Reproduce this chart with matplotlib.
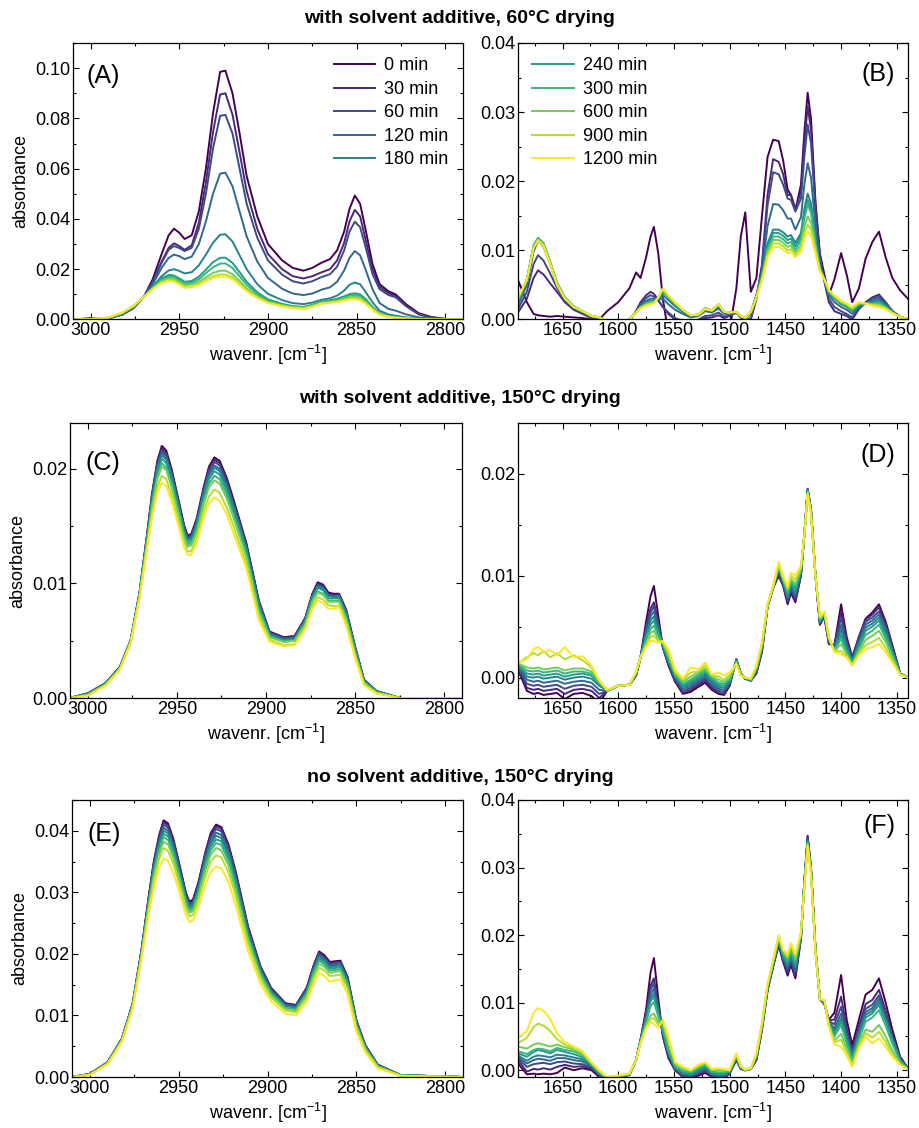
import numpy as np
import matplotlib.pyplot as plt
from matplotlib.ticker import MultipleLocator, FormatStrFormatter

plt.rcParams['font.family'] = ['Liberation Sans', 'DejaVu Sans']
plt.rcParams['mathtext.fontset'] = 'custom'
plt.rcParams['mathtext.rm'] = 'Liberation Sans'

times = [0, 30, 60, 120, 180, 240, 300, 600, 900, 1200]

# ---- C-H stretch region, 60 C drying (A)
wn_a = [3010, 3000, 2990, 2982, 2976, 2970, 2965, 2960, 2956, 2953, 2950, 2947, 2943, 2939, 2935,
        2931, 2927, 2924, 2920, 2916, 2912, 2906, 2900, 2892, 2886, 2880, 2875, 2870, 2865, 2861,
        2857, 2854, 2851, 2848, 2845, 2841, 2837, 2832, 2828, 2822, 2815, 2808, 2800, 2790]
abs_a = [
    [0, .0005, .0005, .0020, .0045, .0090, .0160, .0260, .0335, .0361, .0345, .0320, .0335, .0430, .0600,
     .0820, .0985, .0990, .0900, .0740, .0570, .0410, .0300, .0235, .0205, .0194, .0205, .0225, .0240, .0275,
     .0350, .0440, .0493, .0460, .0360, .0220, .0140, .0112, .0100, .0060, .0025, .0010, .0002, 0],
    [0, .0003, .0004, .0020, .0045, .0090, .0150, .0230, .0285, .0303, .0292, .0277, .0295, .0385, .0545,
     .0745, .0895, .0900, .0815, .0665, .0510, .0360, .0260, .0200, .0172, .0163, .0172, .0187, .0200, .0235,
     .0305, .0390, .0436, .0410, .0320, .0200, .0130, .0104, .0094, .0055, .0022, .0008, .0002, 0],
    [0, .0002, .0004, .0020, .0045, .0090, .0148, .0225, .0277, .0292, .0284, .0272, .0285, .0360, .0500,
     .0680, .0810, .0814, .0740, .0600, .0460, .0325, .0235, .0178, .0152, .0143, .0152, .0168, .0180, .0210,
     .0275, .0350, .0389, .0367, .0290, .0180, .0120, .0097, .0088, .0052, .0020, .0007, .0002, 0],
    [0, .0002, .0004, .0021, .0047, .0090, .0140, .0205, .0245, .0258, .0252, .0240, .0250, .0300, .0390,
     .0500, .0580, .0584, .0530, .0430, .0330, .0230, .0165, .0122, .0103, .0097, .0103, .0118, .0128, .0150,
     .0195, .0245, .0272, .0255, .0200, .0120, .0065, .0042, .0035, .0020, .0008, .0003, .0001, 0],
    [0, .0002, .0005, .0022, .0048, .0090, .0130, .0172, .0195, .0200, .0193, .0183, .0188, .0215, .0258,
     .0305, .0337, .0339, .0310, .0255, .0200, .0140, .0102, .0077, .0065, .0061, .0067, .0078, .0084, .0095,
     .0115, .0138, .0147, .0140, .0110, .0068, .0035, .0020, .0015, .0008, .0003, .0001, 0, 0],
    [0, .0002, .0006, .0024, .0050, .0090, .0128, .0163, .0177, .0175, .0163, .0150, .0153, .0170, .0198,
     .0228, .0245, .0246, .0225, .0188, .0150, .0108, .0080, .0062, .0053, .0050, .0058, .0070, .0076, .0082,
     .0092, .0101, .0104, .0100, .0082, .0050, .0025, .0014, .0010, .0005, .0002, .0001, 0, 0],
    [0, .0002, .0006, .0025, .0051, .0090, .0126, .0158, .0170, .0168, .0156, .0143, .0146, .0160, .0184,
     .0208, .0222, .0223, .0205, .0172, .0138, .0100, .0075, .0059, .0051, .0048, .0056, .0068, .0073, .0078,
     .0087, .0095, .0097, .0093, .0076, .0046, .0023, .0013, .0009, .0005, .0002, .0001, 0, 0],
    [0, .0002, .0007, .0026, .0052, .0090, .0124, .0153, .0163, .0161, .0149, .0137, .0139, .0150, .0168,
     .0185, .0194, .0194, .0180, .0153, .0124, .0092, .0070, .0056, .0049, .0046, .0054, .0066, .0070, .0074,
     .0082, .0088, .0090, .0087, .0071, .0043, .0021, .0012, .0008, .0004, .0002, .0001, 0, 0],
    [0, .0002, .0007, .0027, .0053, .0090, .0122, .0148, .0157, .0155, .0143, .0130, .0132, .0142, .0158,
     .0172, .0179, .0179, .0168, .0143, .0117, .0088, .0067, .0054, .0047, .0044, .0052, .0064, .0068, .0071,
     .0078, .0083, .0084, .0081, .0066, .0040, .0020, .0011, .0007, .0004, .0002, .0001, 0, 0],
    [0, .0002, .0008, .0028, .0054, .0090, .0121, .0145, .0153, .0151, .0139, .0126, .0128, .0137, .0152,
     .0165, .0170, .0170, .0160, .0137, .0112, .0085, .0065, .0052, .0045, .0042, .0050, .0062, .0066, .0069,
     .0075, .0079, .0080, .0077, .0063, .0038, .0019, .0010, .0007, .0003, .0001, .0001, 0, 0],
]

# ---- C-H stretch region, 150 C drying (C: with additive, E: without)
wn_ce = [3010, 3000, 2990, 2982, 2976, 2971, 2967, 2964, 2961, 2958.5, 2956, 2953, 2949, 2946, 2944,
         2942, 2939, 2935, 2932, 2929, 2926, 2922, 2918, 2911, 2904, 2898, 2890, 2884, 2878, 2874,
         2871, 2868, 2865, 2862, 2859, 2855, 2850, 2845, 2838, 2825, 2790]
abs_c = [
    [0, .0004, .0013, .0027, .0050, .0092, .0140, .0178, .0207, .0220, .0216, .0200, .0172, .0151, .0142,
     .0143, .0156, .0184, .0202, .0210, .0207, .0192, .0172, .0135, .0085, .0058, .0053, .0054, .0070, .0091,
     .0101, .0099, .0092, .0091, .0091, .0077, .0045, .0016, .0006, 0, 0],
    [0, .0004, .0013, .0027, .0050, .0092, .0139, .0177, .0205, .0218, .0214, .0198, .0171, .0150, .0141,
     .0142, .0155, .0182, .0200, .0208, .0205, .0190, .0170, .0134, .0084, .0057, .0053, .0054, .0069, .0090,
     .0100, .0098, .0091, .0090, .0090, .0076, .0044, .0016, .0006, 0, 0],
    [0, .0004, .0013, .0027, .0050, .0091, .0139, .0175, .0204, .0216, .0212, .0197, .0169, .0149, .0140,
     .0141, .0153, .0181, .0198, .0206, .0203, .0188, .0169, .0132, .0083, .0057, .0052, .0053, .0069, .0089,
     .0099, .0097, .0090, .0089, .0090, .0075, .0044, .0015, .0006, 0, 0],
    [0, .0004, .0013, .0027, .0050, .0091, .0138, .0174, .0202, .0214, .0210, .0195, .0168, .0147, .0139,
     .0140, .0152, .0179, .0196, .0203, .0200, .0186, .0166, .0131, .0082, .0056, .0051, .0052, .0068, .0089,
     .0098, .0096, .0089, .0089, .0089, .0074, .0043, .0015, .0006, 0, 0],
    [0, .0004, .0012, .0026, .0050, .0091, .0137, .0173, .0200, .0212, .0208, .0193, .0167, .0146, .0138,
     .0139, .0151, .0178, .0194, .0201, .0198, .0184, .0165, .0130, .0081, .0056, .0051, .0052, .0068, .0088,
     .0097, .0095, .0089, .0088, .0088, .0074, .0043, .0015, .0006, 0, 0],
    [0, .0003, .0012, .0026, .0049, .0090, .0136, .0171, .0197, .0209, .0205, .0190, .0165, .0145, .0136,
     .0137, .0149, .0175, .0191, .0198, .0195, .0181, .0162, .0128, .0079, .0055, .0050, .0051, .0067, .0087,
     .0096, .0094, .0087, .0087, .0087, .0072, .0042, .0014, .0005, 0, 0],
    [0, .0003, .0012, .0026, .0049, .0090, .0134, .0168, .0194, .0205, .0201, .0187, .0162, .0142, .0134,
     .0135, .0146, .0172, .0187, .0194, .0191, .0177, .0158, .0125, .0077, .0054, .0049, .0050, .0065, .0085,
     .0093, .0091, .0085, .0085, .0085, .0070, .0040, .0014, .0005, 0, 0],
    [0, .0003, .0012, .0026, .0049, .0089, .0133, .0166, .0191, .0202, .0199, .0184, .0160, .0140, .0132,
     .0133, .0144, .0169, .0184, .0190, .0187, .0174, .0156, .0123, .0075, .0053, .0049, .0050, .0064, .0084,
     .0092, .0090, .0084, .0084, .0084, .0069, .0039, .0013, .0005, 0, 0],
    [0, .0002, .0011, .0025, .0048, .0088, .0130, .0161, .0184, .0194, .0191, .0177, .0154, .0136, .0128,
     .0128, .0139, .0163, .0176, .0182, .0179, .0166, .0149, .0117, .0071, .0051, .0046, .0047, .0062, .0080,
     .0088, .0086, .0081, .0080, .0081, .0066, .0037, .0012, .0004, 0, 0],
    [0, .0002, .0011, .0025, .0048, .0087, .0128, .0157, .0179, .0188, .0185, .0172, .0150, .0132, .0125,
     .0125, .0135, .0158, .0170, .0175, .0172, .0160, .0143, .0113, .0068, .0049, .0045, .0046, .0060, .0078,
     .0085, .0083, .0078, .0078, .0079, .0063, .0035, .0011, .0004, 0, 0],
]
abs_e = [
    [0, .0005, .0024, .0062, .0118, .0205, .0290, .0350, .0393, .0417, .0412, .0387, .0338, .0300, .0285,
     .0288, .0315, .0365, .0396, .0410, .0406, .0378, .0335, .0245, .0180, .0145, .0120, .0117, .0145, .0182,
     .0204, .0198, .0187, .0188, .0189, .0163, .0092, .0052, .0020, .0003, 0],
    [0, .0005, .0024, .0062, .0118, .0204, .0289, .0348, .0390, .0414, .0409, .0384, .0336, .0298, .0283,
     .0286, .0313, .0362, .0393, .0407, .0403, .0375, .0332, .0243, .0179, .0144, .0119, .0116, .0144, .0180,
     .0202, .0196, .0185, .0186, .0187, .0162, .0091, .0051, .0020, .0003, 0],
    [0, .0005, .0024, .0061, .0117, .0203, .0287, .0345, .0387, .0410, .0405, .0381, .0333, .0296, .0281,
     .0284, .0311, .0359, .0389, .0403, .0399, .0371, .0329, .0241, .0177, .0143, .0118, .0115, .0142, .0179,
     .0200, .0194, .0183, .0185, .0186, .0160, .0090, .0051, .0019, .0003, 0],
    [0, .0005, .0023, .0061, .0116, .0202, .0285, .0342, .0383, .0405, .0400, .0377, .0330, .0293, .0279,
     .0282, .0307, .0355, .0384, .0397, .0393, .0366, .0325, .0237, .0175, .0141, .0117, .0114, .0141, .0176,
     .0197, .0192, .0181, .0182, .0183, .0158, .0089, .0050, .0019, .0003, 0],
    [0, .0004, .0023, .0061, .0116, .0201, .0282, .0338, .0379, .0400, .0396, .0372, .0326, .0290, .0276,
     .0279, .0304, .0351, .0379, .0392, .0388, .0362, .0320, .0234, .0172, .0139, .0115, .0112, .0139, .0174,
     .0195, .0189, .0178, .0180, .0181, .0155, .0087, .0049, .0018, .0003, 0],
    [0, .0004, .0023, .0060, .0115, .0200, .0280, .0335, .0374, .0395, .0391, .0368, .0323, .0287, .0273,
     .0276, .0301, .0346, .0374, .0386, .0383, .0357, .0316, .0231, .0170, .0137, .0114, .0111, .0137, .0172,
     .0192, .0186, .0176, .0177, .0178, .0153, .0086, .0048, .0018, .0003, 0],
    [0, .0004, .0023, .0060, .0114, .0198, .0278, .0331, .0370, .0390, .0385, .0363, .0319, .0284, .0270,
     .0273, .0297, .0342, .0368, .0380, .0377, .0351, .0311, .0227, .0168, .0135, .0113, .0110, .0135, .0169,
     .0189, .0183, .0173, .0174, .0175, .0151, .0084, .0047, .0017, .0003, 0],
    [0, .0004, .0022, .0059, .0114, .0197, .0274, .0326, .0363, .0382, .0378, .0356, .0314, .0280, .0267,
     .0269, .0293, .0335, .0361, .0372, .0368, .0344, .0304, .0223, .0164, .0133, .0110, .0107, .0132, .0165,
     .0184, .0179, .0169, .0171, .0172, .0147, .0082, .0045, .0017, .0002, 0],
    [0, .0004, .0022, .0058, .0112, .0194, .0270, .0319, .0354, .0372, .0367, .0347, .0307, .0274, .0261,
     .0263, .0286, .0326, .0350, .0360, .0357, .0333, .0295, .0216, .0160, .0129, .0108, .0105, .0128, .0160,
     .0178, .0173, .0164, .0165, .0166, .0143, .0079, .0043, .0016, .0002, 0],
    [0, .0003, .0021, .0057, .0110, .0190, .0262, .0307, .0340, .0355, .0351, .0332, .0295, .0264, .0252,
     .0254, .0275, .0312, .0333, .0342, .0339, .0317, .0280, .0205, .0152, .0123, .0103, .0100, .0122, .0152,
     .0169, .0164, .0155, .0157, .0158, .0135, .0074, .0040, .0014, .0002, 0],
]

# ---- fingerprint region (B, D, F)
wn_r = [1690, 1682, 1676, 1672, 1667, 1661, 1655, 1648, 1640, 1632, 1624, 1617, 1610, 1600, 1590,
        1584, 1580, 1575, 1571, 1568, 1564, 1560, 1555, 1549, 1542, 1535, 1528, 1522, 1516, 1510,
        1505, 1500, 1494, 1490, 1486, 1481, 1476, 1471, 1466, 1461, 1456, 1452, 1448, 1445, 1441,
        1436, 1433, 1430, 1427, 1423, 1419, 1415, 1411, 1406, 1400, 1395, 1390, 1384, 1378, 1372,
        1366, 1360, 1354, 1347, 1340]
abs_b = [
    [.0057, .0025, .0008, .0006, .0005, .0004, .0005, .0004, .0003, .0002, 0, 0, .0012, .0025, .0045,
     .0068, .0060, .0090, .0120, .0134, .0095, .0030, -.0020, -.0040, -.0050, -.0050, -.0050, -.0050, -.0050, -.0050,
     -.0040, -.0015, .0045, .0120, .0155, .0040, .0060, .0150, .0235, .0260, .0258, .0230, .0188, .0180, .0158,
     .0195, .0270, .0328, .0290, .0170, .0095, .0065, .0035, .0058, .0096, .0065, .0025, .0045, .0088, .0112,
     .0127, .0090, .0060, .0042, .0030],
    [.0010, .0030, .0060, .0071, .0065, .0052, .0040, .0025, .0014, .0008, .0002, .0001, -.0005, -.0010, -.0003,
     .0012, .0025, .0035, .0040, .0037, .0028, .0018, .0008, 0, -.0003, -.0005, -.0002, .0002, .0003, .0006,
     .0002, .0005, .0010, .0003, -.0002, 0, .0030, .0080, .0180, .0232, .0228, .0210, .0180, .0180, .0160,
     .0185, .0255, .0308, .0275, .0165, .0090, .0055, .0025, .0012, .0008, .0005, 0, .0015, .0025, .0032,
     .0036, .0025, .0012, .0004, 0],
    [.0015, .0040, .0080, .0093, .0085, .0066, .0046, .0027, .0015, .0009, .0003, .0001, -.0005, -.0010, -.0002,
     .0012, .0023, .0031, .0035, .0033, .0027, .0018, .0010, .0002, -.0002, -.0003, 0, .0005, .0006, .0010,
     .0004, .0006, .0010, .0003, -.0001, .0002, .0030, .0075, .0165, .0213, .0210, .0195, .0175, .0173, .0156,
     .0175, .0235, .0282, .0255, .0158, .0088, .0057, .0030, .0018, .0012, .0008, .0003, .0016, .0024, .0030,
     .0033, .0024, .0012, .0004, 0],
    [.0020, .0050, .0098, .0114, .0105, .0080, .0050, .0030, .0017, .0010, .0004, .0002, -.0004, -.0008, -.0001,
     .0011, .0020, .0027, .0030, .0030, .0029, .0030, .0022, .0014, .0008, .0003, .0005, .0012, .0010, .0016,
     .0008, .0008, .0010, .0004, .0001, .0008, .0035, .0070, .0135, .0167, .0166, .0158, .0146, .0146, .0130,
     .0148, .0195, .0226, .0205, .0135, .0080, .0058, .0035, .0025, .0018, .0014, .0008, .0018, .0023, .0027,
     .0030, .0022, .0012, .0004, 0],
    [.0025, .0055, .0105, .0117, .0108, .0082, .0052, .0031, .0018, .0011, .0005, .0002, -.0004, -.0008, 0,
     .0010, .0019, .0025, .0027, .0028, .0030, .0035, .0028, .0019, .0011, .0005, .0006, .0014, .0012, .0019,
     .0010, .0009, .0010, .0004, .0002, .0010, .0035, .0065, .0110, .0130, .0130, .0126, .0120, .0122, .0111,
     .0125, .0160, .0182, .0168, .0118, .0075, .0058, .0038, .0030, .0022, .0018, .0012, .0020, .0023, .0025,
     .0027, .0020, .0011, .0004, 0],
    [.0027, .0058, .0107, .0118, .0110, .0083, .0053, .0032, .0019, .0012, .0005, .0003, -.0003, -.0007, 0,
     .0010, .0018, .0024, .0026, .0027, .0031, .0040, .0031, .0022, .0013, .0006, .0007, .0016, .0013, .0021,
     .0011, .0010, .0011, .0005, .0002, .0011, .0035, .0064, .0106, .0125, .0125, .0121, .0115, .0117, .0106,
     .0120, .0153, .0173, .0160, .0115, .0074, .0058, .0039, .0031, .0023, .0019, .0013, .0021, .0023, .0024,
     .0026, .0019, .0011, .0004, 0],
    [.0028, .0058, .0106, .0117, .0109, .0083, .0053, .0032, .0019, .0012, .0005, .0003, -.0003, -.0007, 0,
     .0010, .0018, .0023, .0025, .0026, .0031, .0042, .0032, .0023, .0013, .0006, .0007, .0016, .0013, .0022,
     .0011, .0010, .0011, .0005, .0002, .0011, .0034, .0062, .0102, .0120, .0120, .0116, .0110, .0112, .0101,
     .0115, .0146, .0166, .0154, .0112, .0073, .0058, .0040, .0032, .0024, .0020, .0014, .0022, .0023, .0023,
     .0024, .0018, .0010, .0004, 0],
    [.0029, .0058, .0105, .0116, .0108, .0082, .0052, .0031, .0018, .0012, .0005, .0003, -.0003, -.0007, 0,
     .0010, .0017, .0022, .0024, .0025, .0032, .0043, .0033, .0024, .0014, .0006, .0007, .0016, .0013, .0022,
     .0011, .0010, .0011, .0005, .0002, .0011, .0033, .0060, .0098, .0115, .0115, .0111, .0105, .0107, .0097,
     .0108, .0134, .0149, .0140, .0105, .0072, .0058, .0041, .0033, .0025, .0021, .0015, .0023, .0023, .0022,
     .0022, .0017, .0010, .0004, 0],
    [.0030, .0057, .0104, .0115, .0107, .0081, .0051, .0031, .0018, .0012, .0005, .0003, -.0003, -.0007, 0,
     .0010, .0017, .0021, .0023, .0024, .0032, .0044, .0034, .0024, .0014, .0006, .0007, .0015, .0013, .0022,
     .0011, .0010, .0011, .0005, .0002, .0011, .0032, .0058, .0094, .0110, .0110, .0106, .0100, .0102, .0093,
     .0103, .0125, .0137, .0130, .0100, .0071, .0058, .0042, .0034, .0026, .0022, .0017, .0024, .0023, .0021,
     .0020, .0016, .0009, .0004, 0],
    [.0032, .0057, .0103, .0114, .0106, .0080, .0050, .0030, .0018, .0012, .0005, .0003, -.0003, -.0007, 0,
     .0010, .0016, .0020, .0022, .0023, .0032, .0045, .0035, .0025, .0014, .0006, .0007, .0015, .0013, .0022,
     .0011, .0010, .0011, .0005, .0002, .0011, .0031, .0056, .0090, .0105, .0105, .0101, .0096, .0098, .0090,
     .0098, .0117, .0127, .0121, .0096, .0070, .0058, .0043, .0035, .0027, .0023, .0018, .0025, .0023, .0020,
     .0018, .0015, .0009, .0004, 0],
]
abs_d = [
    [.0008, -.0013, -.0016, -.0015, -.0017, -.0016, -.0015, -.0021, -.0016, -.0015, -.0018, -.0025, -.0013, -.0008, -.0007,
     .0002, .0020, .0055, .0080, .0090, .0060, .0030, .0012, -.0004, -.0016, -.0014, -.0009, -.0005, -.0012, -.0016,
     -.0017, -.0008, .0018, .0004, -.0001, -.0003, .0004, .0025, .0070, .0088, .0100, .0090, .0072, .0083, .0074,
     .0100, .0140, .0185, .0165, .0100, .0052, .0060, .0033, .0032, .0072, .0040, .0020, .0040, .0058, .0064,
     .0072, .0055, .0032, .0004, 0],
    [.0009, -.0010, -.0012, -.0011, -.0013, -.0012, -.0011, -.0016, -.0012, -.0011, -.0013, -.0020, -.0013, -.0008, -.0007,
     .0002, .0020, .0050, .0068, .0074, .0054, .0030, .0013, -.0003, -.0015, -.0012, -.0007, -.0003, -.0010, -.0015,
     -.0016, -.0007, .0018, .0004, -.0001, -.0003, .0005, .0026, .0070, .0088, .0102, .0091, .0074, .0085, .0076,
     .0101, .0140, .0185, .0165, .0100, .0052, .0060, .0034, .0031, .0064, .0037, .0019, .0040, .0057, .0062,
     .0069, .0053, .0031, .0004, 0],
    [.0010, -.0006, -.0008, -.0007, -.0009, -.0008, -.0007, -.0011, -.0008, -.0007, -.0009, -.0016, -.0013, -.0008, -.0007,
     .0002, .0020, .0048, .0064, .0070, .0052, .0030, .0014, -.0002, -.0013, -.0010, -.0005, -.0001, -.0008, -.0013,
     -.0014, -.0006, .0018, .0004, -.0001, -.0003, .0006, .0027, .0070, .0088, .0104, .0092, .0076, .0087, .0078,
     .0102, .0140, .0185, .0165, .0100, .0053, .0061, .0035, .0030, .0059, .0035, .0018, .0038, .0055, .0059,
     .0065, .0050, .0029, .0004, 0],
    [.0011, -.0002, -.0004, -.0003, -.0005, -.0004, -.0003, -.0006, -.0004, -.0003, -.0005, -.0012, -.0013, -.0008, -.0007,
     .0003, .0020, .0045, .0060, .0065, .0049, .0031, .0015, 0, -.0011, -.0008, -.0003, .0001, -.0006, -.0011,
     -.0012, -.0005, .0017, .0004, -.0001, -.0003, .0006, .0028, .0070, .0088, .0106, .0093, .0078, .0089, .0080,
     .0103, .0140, .0184, .0164, .0100, .0054, .0062, .0036, .0029, .0052, .0032, .0017, .0036, .0052, .0056,
     .0062, .0048, .0027, .0004, 0],
    [.0012, .0001, 0, .0001, -.0001, 0, .0001, -.0002, 0, .0001, -.0001, -.0008, -.0013, -.0008, -.0007,
     .0003, .0020, .0042, .0056, .0060, .0046, .0032, .0017, .0001, -.0009, -.0006, -.0001, .0003, -.0004, -.0009,
     -.0010, -.0004, .0017, .0004, -.0001, -.0003, .0007, .0029, .0070, .0088, .0107, .0094, .0080, .0091, .0083,
     .0104, .0140, .0184, .0164, .0100, .0055, .0062, .0037, .0028, .0047, .0030, .0016, .0034, .0049, .0053,
     .0059, .0045, .0026, .0004, 0],
    [.0012, .0004, .0003, .0004, .0002, .0003, .0004, .0001, .0003, .0004, .0002, -.0006, -.0013, -.0008, -.0007,
     .0004, .0020, .0040, .0052, .0056, .0044, .0032, .0018, .0002, -.0008, -.0004, .0001, .0005, -.0002, -.0007,
     -.0008, -.0003, .0016, .0003, 0, -.0002, .0008, .0030, .0071, .0089, .0108, .0095, .0082, .0093, .0086,
     .0105, .0140, .0183, .0163, .0100, .0056, .0063, .0038, .0027, .0042, .0027, .0015, .0031, .0046, .0050,
     .0056, .0042, .0024, .0004, 0],
    [.0013, .0007, .0006, .0007, .0005, .0006, .0007, .0004, .0006, .0006, .0004, -.0005, -.0013, -.0008, -.0007,
     .0004, .0020, .0037, .0048, .0051, .0041, .0033, .0020, .0003, -.0006, -.0002, .0003, .0007, 0, -.0005,
     -.0006, -.0002, .0016, .0003, 0, -.0002, .0009, .0031, .0071, .0089, .0109, .0096, .0084, .0095, .0089,
     .0106, .0140, .0183, .0163, .0100, .0057, .0063, .0038, .0027, .0038, .0025, .0014, .0029, .0042, .0046,
     .0052, .0039, .0022, .0004, 0],
    [.0014, .0010, .0009, .0010, .0008, .0009, .0010, .0007, .0009, .0009, .0006, -.0004, -.0013, -.0008, -.0007,
     .0005, .0020, .0034, .0044, .0046, .0038, .0034, .0022, .0004, -.0004, .0001, .0005, .0009, .0001, -.0002,
     -.0004, 0, .0015, .0003, 0, -.0002, .0010, .0032, .0071, .0089, .0110, .0097, .0086, .0097, .0092,
     .0107, .0140, .0182, .0162, .0100, .0058, .0064, .0039, .0026, .0033, .0023, .0013, .0026, .0037, .0041,
     .0046, .0035, .0020, .0003, 0],
    [.0014, .0020, .0024, .0022, .0026, .0020, .0024, .0018, .0022, .0017, .0010, -.0003, -.0012, -.0008, -.0007,
     .0005, .0020, .0032, .0040, .0041, .0036, .0035, .0025, .0006, -.0002, .0005, .0006, .0012, .0002, .0001,
     -.0002, .0003, .0014, .0002, 0, -.0001, .0011, .0034, .0072, .0090, .0112, .0098, .0088, .0100, .0096,
     .0108, .0140, .0181, .0161, .0100, .0059, .0064, .0040, .0026, .0026, .0021, .0012, .0024, .0032, .0035,
     .0039, .0029, .0017, .0003, 0],
    [.0015, .0018, .0028, .0030, .0025, .0027, .0022, .0030, .0020, .0021, .0012, -.0003, -.0012, -.0008, -.0007,
     .0006, .0020, .0030, .0036, .0036, .0034, .0036, .0028, .0008, -.0001, .0010, .0008, .0015, .0003, .0005,
     .0002, .0005, .0013, .0002, 0, -.0001, .0012, .0035, .0072, .0090, .0114, .0100, .0090, .0103, .0100,
     .0110, .0140, .0180, .0160, .0100, .0060, .0065, .0040, .0025, .0023, .0020, .0012, .0022, .0028, .0030,
     .0033, .0025, .0015, .0003, 0],
]
abs_f = [
    [.0010, -.0006, -.0005, -.0006, -.0005, -.0006, -.0004, .0004, 0, .0003, 0, -.0010, -.0015, -.0010, -.0007,
     .0015, .0045, .0090, .0145, .0166, .0105, .0050, .0018, 0, -.0010, -.0012, -.0008, -.0004, -.0010, -.0012,
     -.0012, -.0005, .0015, .0002, 0, .0002, .0015, .0060, .0118, .0153, .0185, .0160, .0140, .0156, .0136,
     .0195, .0280, .0347, .0300, .0180, .0105, .0098, .0075, .0085, .0141, .0075, .0037, .0075, .0112, .0119,
     .0136, .0100, .0060, .0020, .0003],
    [.0015, -.0002, .0002, .0001, .0003, .0001, .0005, .0008, .0005, .0006, .0002, -.0008, -.0015, -.0010, -.0007,
     .0015, .0045, .0085, .0125, .0136, .0095, .0052, .0020, .0001, -.0009, -.0011, -.0006, -.0002, -.0009, -.0011,
     -.0011, -.0004, .0016, .0002, 0, .0002, .0016, .0061, .0119, .0154, .0187, .0162, .0144, .0159, .0140,
     .0196, .0279, .0345, .0299, .0180, .0105, .0099, .0074, .0075, .0109, .0063, .0030, .0065, .0098, .0104,
     .0119, .0088, .0053, .0018, .0003],
    [.0018, .0005, .0009, .0010, .0011, .0009, .0012, .0013, .0010, .0009, .0004, -.0007, -.0014, -.0010, -.0007,
     .0015, .0045, .0082, .0119, .0129, .0092, .0054, .0022, .0002, -.0008, -.0010, -.0005, 0, -.0008, -.0010,
     -.0010, -.0004, .0017, .0003, 0, .0002, .0017, .0062, .0120, .0155, .0188, .0164, .0148, .0163, .0144,
     .0197, .0278, .0343, .0298, .0179, .0105, .0100, .0073, .0068, .0094, .0057, .0027, .0060, .0091, .0097,
     .0111, .0083, .0050, .0017, .0003],
    [.0020, .0010, .0015, .0017, .0016, .0014, .0018, .0018, .0015, .0013, .0006, -.0006, -.0014, -.0010, -.0007,
     .0015, .0044, .0079, .0112, .0121, .0089, .0056, .0024, .0003, -.0006, -.0008, -.0003, .0002, -.0006, -.0008,
     -.0008, -.0003, .0018, .0003, 0, .0002, .0018, .0063, .0121, .0156, .0190, .0166, .0152, .0167, .0148,
     .0198, .0277, .0341, .0297, .0179, .0105, .0100, .0072, .0062, .0084, .0052, .0024, .0057, .0086, .0092,
     .0106, .0079, .0047, .0016, .0003],
    [.0022, .0014, .0020, .0022, .0021, .0019, .0023, .0022, .0019, .0016, .0007, -.0005, -.0013, -.0009, -.0006,
     .0015, .0044, .0076, .0106, .0114, .0086, .0058, .0026, .0004, -.0005, -.0007, -.0001, .0004, -.0005, -.0007,
     -.0007, -.0003, .0019, .0004, 0, .0002, .0019, .0064, .0122, .0157, .0192, .0168, .0155, .0170, .0152,
     .0199, .0276, .0340, .0296, .0178, .0105, .0101, .0071, .0058, .0077, .0048, .0021, .0053, .0082, .0088,
     .0101, .0075, .0045, .0015, .0003],
    [.0025, .0020, .0027, .0030, .0028, .0025, .0030, .0027, .0024, .0019, .0008, -.0004, -.0013, -.0009, -.0006,
     .0015, .0043, .0074, .0102, .0109, .0083, .0060, .0028, .0005, -.0003, -.0005, .0001, .0006, -.0003, -.0005,
     -.0005, -.0002, .0020, .0004, 0, .0002, .0020, .0065, .0123, .0158, .0193, .0170, .0158, .0173, .0156,
     .0200, .0275, .0338, .0295, .0178, .0105, .0102, .0070, .0054, .0072, .0044, .0018, .0050, .0078, .0084,
     .0097, .0072, .0043, .0014, .0002],
    [.0028, .0024, .0030, .0032, .0031, .0028, .0033, .0030, .0028, .0022, .0009, -.0003, -.0012, -.0009, -.0006,
     .0015, .0042, .0071, .0095, .0101, .0079, .0063, .0031, .0006, -.0001, -.0003, .0003, .0008, -.0002, -.0003,
     -.0003, -.0001, .0021, .0005, 0, .0002, .0021, .0066, .0124, .0159, .0195, .0172, .0162, .0177, .0160,
     .0201, .0274, .0337, .0294, .0177, .0105, .0102, .0069, .0050, .0067, .0040, .0015, .0046, .0072, .0078,
     .0089, .0066, .0039, .0013, .0002],
    [.0035, .0032, .0038, .0040, .0038, .0035, .0038, .0034, .0031, .0024, .0010, -.0002, -.0011, -.0008, -.0006,
     .0015, .0041, .0066, .0081, .0084, .0071, .0068, .0040, .0009, .0002, -.0001, .0005, .0010, 0, 0,
     0, 0, .0023, .0005, .0001, .0003, .0023, .0068, .0126, .0161, .0197, .0175, .0166, .0182, .0165,
     .0203, .0272, .0335, .0292, .0176, .0105, .0103, .0067, .0044, .0054, .0032, .0010, .0040, .0060, .0057,
     .0067, .0050, .0029, .0010, .0002],
    [.0040, .0048, .0064, .0069, .0066, .0058, .0046, .0038, .0033, .0026, .0011, -.0001, -.0010, -.0008, -.0005,
     .0015, .0040, .0064, .0076, .0077, .0067, .0072, .0045, .0011, .0004, 0, .0007, .0011, .0001, .0002,
     .0001, 0, .0024, .0006, .0001, .0003, .0024, .0069, .0127, .0162, .0199, .0177, .0169, .0185, .0169,
     .0204, .0271, .0333, .0291, .0175, .0105, .0104, .0066, .0041, .0045, .0027, .0007, .0036, .0055, .0048,
     .0057, .0042, .0024, .0009, .0001],
    [.0048, .0058, .0085, .0092, .0088, .0076, .0055, .0042, .0035, .0028, .0012, 0, -.0010, -.0008, -.0005,
     .0015, .0040, .0062, .0072, .0068, .0063, .0075, .0050, .0012, .0005, 0, .0008, .0012, .0002, .0003,
     .0002, 0, .0025, .0006, .0001, .0003, .0025, .0070, .0128, .0163, .0200, .0178, .0172, .0188, .0172,
     .0205, .0270, .0332, .0290, .0175, .0105, .0104, .0065, .0038, .0035, .0022, .0005, .0033, .0050, .0040,
     .0047, .0035, .0020, .0008, .0001],
]

colors = plt.cm.viridis(np.linspace(0, 1, len(times)))
fs = 13

fig = plt.figure(figsize=(9.2, 11.28), dpi=100)

panels = [
    # data, wn, ylim, minor y step, letter, axes rect, letter pos, ha
    (abs_a, wn_a, (0, 0.11), 0.01, '(A)', [0.0793, 0.7168, 0.4239, 0.2451], (0.035, 0.925), 'left'),
    (abs_b, wn_r, (0, 0.04), 0.005, '(B)', [0.5630, 0.7168, 0.4239, 0.2451], (0.967, 0.93), 'right'),
    (abs_c, wn_ce, (0, 0.024), 0.005, '(C)', [0.0761, 0.3812, 0.4261, 0.2438], (0.04, 0.90), 'left'),
    (abs_d, wn_r, (-0.002, 0.025), 0.005, '(D)', [0.5630, 0.3812, 0.4239, 0.2438], (0.967, 0.927), 'right'),
    (abs_e, wn_ce, (0, 0.045), 0.005, '(E)', [0.0783, 0.0452, 0.4250, 0.2456], (0.04, 0.92), 'left'),
    (abs_f, wn_r, (-0.001, 0.04), 0.005, '(F)', [0.5630, 0.0452, 0.4239, 0.2456], (0.967, 0.95), 'right'),
]

axes = []
for i, (data, wn, ylim, yminor, letter, rect, lpos, ha) in enumerate(panels):
    ax = fig.add_axes(rect)
    for k, y in enumerate(data):
        ax.plot(wn, y, color=colors[k], lw=1.4, solid_joinstyle='round',
                label=f'{times[k]} min')
    if i % 2 == 0:
        ax.set_xlim(3010, 2790)
        ax.set_ylabel('absorbance', fontsize=fs, labelpad=4)
    else:
        ax.set_xlim(1690, 1340)
    ax.xaxis.set_major_locator(MultipleLocator(50))
    ax.xaxis.set_minor_locator(MultipleLocator(25))
    ax.set_ylim(*ylim)
    ax.yaxis.set_major_locator(MultipleLocator(0.02 if i == 0 else 0.01))
    ax.yaxis.set_minor_locator(MultipleLocator(yminor))
    ax.yaxis.set_major_formatter(FormatStrFormatter('%.2f'))
    ax.tick_params(which='both', direction='in', top=True, right=True, labelsize=fs, pad=2, width=0.8)
    ax.tick_params(which='major', length=4)
    ax.tick_params(which='minor', length=2.5)
    for s in ax.spines.values():
        s.set_linewidth(0.9)
    ax.set_xlabel('wavenr. [cm$^{-1}$]', fontsize=fs, labelpad=3)
    ax.text(lpos[0], lpos[1], letter, transform=ax.transAxes, ha=ha, va='top', fontsize=18)
    axes.append(ax)

h, l = axes[0].get_legend_handles_labels()
axes[0].legend(h[:5], l[:5], loc='upper right', frameon=False, fontsize=fs,
               handlelength=2.3, labelspacing=0.36, handletextpad=0.5, borderaxespad=0.4)
axes[1].legend(h[5:], l[5:], loc='upper left', frameon=False, fontsize=fs,
               handlelength=2.3, labelspacing=0.36, handletextpad=0.5, borderaxespad=0.4)

for y, title in [(0.984, 'with solvent additive, 60°C drying'),
                 (0.647, 'with solvent additive, 150°C drying'),
                 (0.3103, 'no solvent additive, 150°C drying')]:
    fig.text(0.5, y, title, ha='center', va='center', fontsize=14, fontweight='bold')

fig.savefig('out.png', dpi=100)
